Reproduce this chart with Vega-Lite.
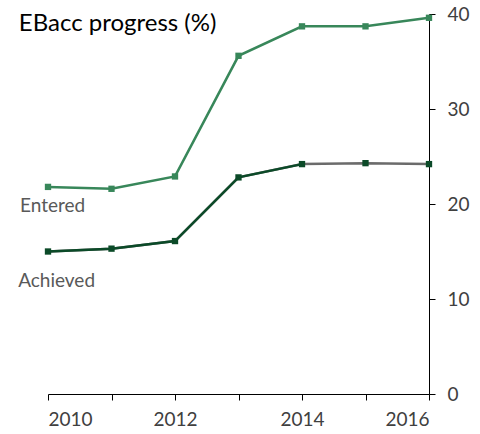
{
  "$schema": "https://vega.github.io/schema/vega-lite/v6.json",
  "width": 381,
  "height": 380,
  "autosize": {"type": "none"},
  "padding": {"left": 48, "top": 14, "right": 51, "bottom": 40},
  "background": "white",
  "config": {"view": {"stroke": null}, "font": "Lato"},
  "datasets": {
    "pts": [
      {"year": 2010, "pct": 21.8, "series": "Entered"},
      {"year": 2011, "pct": 21.6, "series": "Entered"},
      {"year": 2012, "pct": 22.9, "series": "Entered"},
      {"year": 2013, "pct": 35.6, "series": "Entered"},
      {"year": 2014, "pct": 38.7, "series": "Entered"},
      {"year": 2015, "pct": 38.7, "series": "Entered"},
      {"year": 2016, "pct": 39.6, "series": "Entered"},
      {"year": 2010, "pct": 15.0, "series": "Achieved"},
      {"year": 2011, "pct": 15.3, "series": "Achieved"},
      {"year": 2012, "pct": 16.1, "series": "Achieved"},
      {"year": 2013, "pct": 22.8, "series": "Achieved"},
      {"year": 2014, "pct": 24.2, "series": "Achieved"},
      {"year": 2015, "pct": 24.3, "series": "Achieved"},
      {"year": 2016, "pct": 24.2, "series": "Achieved"}
    ],
    "labels": [
      {"year": 2009.56, "pct": 19.75, "text": "Entered", "kind": "label"},
      {"year": 2009.53, "pct": 11.9, "text": "Achieved", "kind": "label"},
      {"year": 2009.54, "pct": 38.9, "text": "EBacc progress (%)", "kind": "title"}
    ]
  },
  "layer": [
    {
      "data": {"name": "pts"},
      "transform": [{"filter": "datum.series === 'Achieved'"}],
      "mark": {"type": "line", "color": "#6b6b6b", "strokeWidth": 2.5},
      "encoding": {
        "x": {
          "field": "year", "type": "quantitative",
          "scale": {"domain": [2010, 2016], "nice": false, "zero": false},
          "axis": {
            "title": null,
            "values": [2010, 2011, 2012, 2013, 2014, 2015, 2016],
            "labelExpr": "datum.value % 2 === 0 ? datum.value : ''",
            "format": "d",
            "grid": false,
            "domainColor": "#000000",
            "tickColor": "#000000",
            "tickSize": 6,
            "labelFontSize": 19,
            "labelFontWeight": "normal",
            "labelColor": "#404040",
            "labelPadding": 10,
            "labelFont": "Lato"
          }
        },
        "y": {
          "field": "pct", "type": "quantitative",
          "scale": {"domain": [0, 40], "nice": false},
          "axis": {
            "orient": "right",
            "title": null,
            "values": [0, 10, 20, 30, 40],
            "grid": false,
            "domainColor": "#000000",
            "tickColor": "#000000",
            "tickSize": 6,
            "labelFontSize": 19,
            "labelFontWeight": "normal",
            "labelColor": "#404040",
            "labelPadding": 12,
            "labelFont": "Lato"
          }
        }
      }
    },
    {
      "data": {"name": "pts"},
      "transform": [{"filter": "datum.series === 'Achieved' && datum.year <= 2014"}],
      "mark": {"type": "line", "color": "#0b4a28", "strokeWidth": 2.5},
      "encoding": {
        "x": {"field": "year", "type": "quantitative"},
        "y": {"field": "pct", "type": "quantitative"}
      }
    },
    {
      "data": {"name": "pts"},
      "transform": [{"filter": "datum.series === 'Entered'"}],
      "mark": {"type": "line", "color": "#38875a", "strokeWidth": 2.5},
      "encoding": {
        "x": {"field": "year", "type": "quantitative"},
        "y": {"field": "pct", "type": "quantitative"}
      }
    },
    {
      "data": {"name": "pts"},
      "mark": {"type": "point", "shape": "square", "filled": true, "size": 40, "opacity": 1},
      "encoding": {
        "x": {"field": "year", "type": "quantitative"},
        "y": {"field": "pct", "type": "quantitative"},
        "color": {
          "field": "series", "type": "nominal",
          "scale": {"domain": ["Entered", "Achieved"], "range": ["#38875a", "#0b4a28"]},
          "legend": null
        }
      }
    },
    {
      "data": {"name": "labels"},
      "transform": [{"filter": "datum.kind === 'label'"}],
      "mark": {"type": "text", "align": "left", "baseline": "middle", "fontSize": 19, "color": "#595959", "font": "Lato"},
      "encoding": {
        "x": {"field": "year", "type": "quantitative"},
        "y": {"field": "pct", "type": "quantitative"},
        "text": {"field": "text"}
      }
    },
    {
      "data": {"name": "labels"},
      "transform": [{"filter": "datum.kind === 'title'"}],
      "mark": {"type": "text", "align": "left", "baseline": "middle", "fontSize": 24, "color": "#000000", "font": "Lato"},
      "encoding": {
        "x": {"field": "year", "type": "quantitative"},
        "y": {"field": "pct", "type": "quantitative"},
        "text": {"field": "text"}
      }
    }
  ]
}
